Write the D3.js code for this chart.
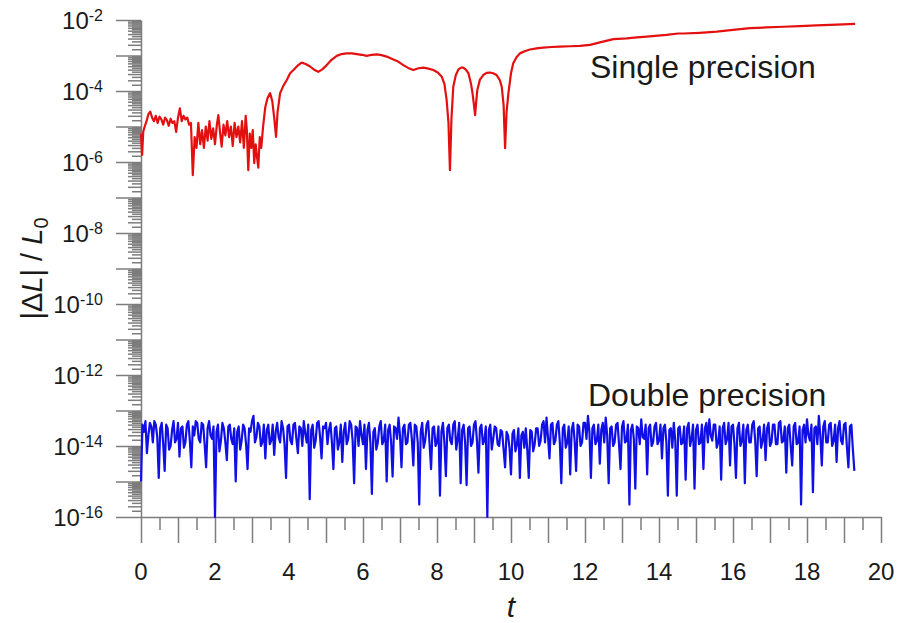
<!DOCTYPE html>
<html>
<head>
<meta charset="utf-8">
<script src="https://cdn.jsdelivr.net/npm/d3@7"></script>
<style>
    body { margin: 0; background: #fff; }
    svg { display: block; font-family: "Liberation Sans", Arial, sans-serif; }
    .axis path, .axis line { stroke: #7d7d7d; stroke-width: 1.5; }
</style>
</head>
<body>
<div id="viz"></div>
<script>
//Datos: exponentes log10 de |dL|/L0
const redT = [0.00, 0.03, 0.06, 0.10, 0.15, 0.20, 0.25, 0.30, 0.35, 0.40, 0.45, 0.50, 0.55, 0.60, 0.65, 0.70, 0.75, 0.80, 0.85, 0.90,
    0.95, 1.00, 1.05, 1.10, 1.15, 1.20, 1.25, 1.30, 1.35, 1.40, 1.45, 1.50, 1.55, 1.60, 1.65, 1.70, 1.75, 1.80, 1.85, 1.90,
    1.95, 2.00, 2.05, 2.09, 2.14, 2.18, 2.23, 2.28, 2.33, 2.38, 2.43, 2.48, 2.53, 2.58, 2.63, 2.68, 2.73, 2.78, 2.83, 2.86,
    2.90, 2.94, 2.98, 3.02, 3.06, 3.10, 3.14, 3.17, 3.21, 3.25, 3.30, 3.36, 3.42, 3.49, 3.55, 3.60, 3.65, 3.69, 3.76, 3.85,
    3.94, 4.03, 4.12, 4.25, 4.34, 4.45, 4.57, 4.68, 4.79, 4.90, 5.02, 5.15, 5.29, 5.42, 5.56, 5.70, 5.83, 5.97, 6.10, 6.24,
    6.37, 6.50, 6.64, 6.82, 6.95, 7.09, 7.22, 7.36, 7.50, 7.63, 7.77, 7.90, 8.02, 8.13, 8.20, 8.26, 8.31, 8.35, 8.39, 8.44,
    8.51, 8.58, 8.65, 8.71, 8.78, 8.85, 8.92, 8.96, 9.00, 9.03, 9.06, 9.09, 9.16, 9.25, 9.34, 9.43, 9.52, 9.61, 9.70, 9.75,
    9.80, 9.84, 9.88, 9.93, 10.00, 10.06, 10.15, 10.24, 10.37, 10.51, 10.69, 10.87, 11.10, 11.32, 11.60, 11.86, 12.14, 12.40, 12.60, 12.77,
    13.13, 13.40, 13.67, 14.20, 14.52, 14.66, 15.10, 15.56, 16.00, 16.46, 16.90, 17.36, 17.80, 18.26, 18.80, 19.30];

const redLog = [-5.2, -5.8, -5.15, -5.0, -4.85, -4.65, -4.58, -4.75, -4.85, -4.7, -4.9, -4.72, -4.8, -4.95, -4.75, -4.82, -4.98, -4.78, -4.9, -4.85,
    -5.15, -4.75, -4.49, -4.85, -4.7, -4.8, -4.75, -4.95, -4.9, -6.37, -5.3, -5.6, -4.9, -5.5, -5.1, -5.6, -5.0, -5.4, -4.85, -5.35,
    -5.05, -5.5, -4.95, -4.68, -5.2, -5.57, -4.95, -5.25, -4.85, -5.3, -5.0, -5.55, -4.9, -5.3, -5.0, -5.45, -4.85, -5.6, -4.7, -5.1,
    -6.23, -5.2, -5.6, -5.1, -6.03, -5.5, -5.9, -6.16, -5.3, -5.6, -5.0, -4.45, -4.2, -4.06, -4.3, -4.75, -5.29, -4.6, -4.06, -3.85,
    -3.69, -3.5, -3.41, -3.27, -3.2, -3.24, -3.31, -3.4, -3.46, -3.39, -3.27, -3.12, -3.01, -2.96, -2.94, -2.94, -2.96, -2.98, -3.01, -2.98,
    -2.97, -2.99, -3.03, -3.11, -3.17, -3.27, -3.35, -3.41, -3.36, -3.34, -3.37, -3.41, -3.48, -3.6, -3.8, -4.25, -4.9, -6.23, -4.8, -3.88,
    -3.55, -3.39, -3.34, -3.34, -3.4, -3.5, -3.8, -4.06, -4.4, -4.68, -4.3, -3.97, -3.68, -3.55, -3.49, -3.48, -3.5, -3.55, -3.7, -3.88,
    -4.4, -5.61, -4.6, -4.06, -3.5, -3.22, -3.05, -2.94, -2.88, -2.83, -2.8, -2.78, -2.76, -2.75, -2.74, -2.73, -2.7, -2.63, -2.58, -2.54,
    -2.52, -2.49, -2.47, -2.42, -2.38, -2.38, -2.36, -2.33, -2.28, -2.23, -2.21, -2.19, -2.17, -2.15, -2.13, -2.11];

// Doble precision: una muestra cada 0.04
const blueStep = 0.04;
const blueLog = [
    -15.0, -13.4, -13.6, -13.3, -14.2, -13.7, -13.35, -13.45, -13.9, -13.3, -13.4, -13.75, -14.9, -13.5, -13.35, -13.95, -14.7, -13.4, -13.5, -14.1,
    -14.0, -13.55, -13.3, -13.9, -13.8, -13.35, -14.3, -13.5, -13.45, -14.05, -13.9, -13.4, -13.3, -13.85, -14.6, -13.45, -13.7, -13.3, -13.35, -13.8,
    -13.9, -13.35, -13.4, -13.95, -14.6, -13.5, -13.3, -13.7, -13.8, -13.45, -16.0, -13.6, -13.4, -14.15, -13.85, -13.35, -13.5, -13.9, -14.4, -13.45,
    -13.4, -13.8, -13.95, -13.5, -15.0, -13.6, -13.45, -14.1, -13.85, -13.4, -13.5, -13.95, -14.65, -13.5, -13.6, -13.3, -13.15, -13.9, -13.75, -13.35,
    -13.45, -14.0, -13.9, -13.4, -14.35, -13.55, -13.4, -13.95, -13.85, -13.4, -14.25, -13.6, -13.35, -13.75, -13.9, -13.3, -13.5, -13.95, -14.9, -13.45,
    -13.4, -13.85, -13.95, -13.4, -13.35, -13.8, -14.2, -13.45, -13.5, -14.0, -13.3, -13.65, -13.9, -13.4, -15.5, -13.55, -13.4, -14.05, -13.85, -13.35,
    -13.3, -13.75, -14.35, -13.45, -13.5, -13.35, -13.95, -13.55, -13.35, -13.9, -14.65, -13.5, -13.45, -14.1, -13.9, -13.4, -14.45, -13.6, -13.35, -13.95,
    -13.8, -13.3, -13.4, -13.85, -15.05, -13.45, -13.5, -14.0, -13.3, -13.7, -13.95, -13.4, -14.65, -13.55, -13.35, -13.9, -15.35, -13.6, -13.5, -14.1,
    -13.9, -13.45, -13.3, -13.95, -13.85, -13.4, -15.0, -13.55, -13.4, -13.9, -14.86, -13.45, -13.5, -13.8, -13.2, -13.7, -14.6, -13.5, -13.4, -13.95,
    -13.9, -13.4, -13.35, -13.8, -14.55, -13.4, -13.45, -13.9, -15.65, -13.6, -13.35, -14.05, -13.85, -13.4, -13.3, -13.95, -14.65, -13.5, -13.45, -14.0,
    -13.9, -13.45, -15.4, -13.6, -13.35, -13.9, -14.85, -13.5, -13.4, -13.85, -13.95, -13.4, -13.3, -14.1, -13.8, -13.35, -15.05, -13.55, -13.4, -13.9,
    -15.1, -13.5, -13.45, -14.0, -13.9, -13.4, -13.3, -13.85, -14.75, -13.5, -13.4, -13.95, -13.85, -13.45, -16.0, -13.55, -13.4, -14.1, -13.8, -13.45,
    -13.5, -13.95, -14.0, -13.55, -13.6, -14.1, -14.6, -13.6, -13.7, -14.05, -14.8, -13.65, -13.55, -14.15, -13.95, -13.5, -14.9, -13.7, -13.6, -14.05,
    -13.5, -14.1, -14.9, -13.55, -13.6, -14.15, -13.95, -13.5, -13.5, -14.0, -13.85, -13.4, -13.3, -13.9, -13.2, -13.75, -14.35, -13.4, -13.35, -13.95,
    -13.85, -13.4, -13.3, -13.9, -15.05, -13.5, -13.4, -14.05, -13.9, -13.45, -14.8, -13.55, -13.35, -13.85, -14.7, -13.4, -13.45, -14.0, -13.9, -13.35,
    -13.35, -13.8, -13.15, -13.6, -14.9, -13.5, -13.4, -13.95, -13.85, -13.4, -14.5, -13.55, -13.35, -13.9, -13.2, -13.7, -15.05, -13.5, -13.45, -14.0,
    -13.9, -13.4, -13.35, -13.95, -14.65, -13.45, -13.3, -13.9, -13.85, -13.4, -15.65, -13.55, -13.4, -13.8, -15.2, -13.45, -13.5, -13.95, -13.25, -13.75,
    -13.8, -13.4, -14.8, -13.5, -13.4, -14.0, -13.9, -13.45, -13.35, -13.95, -13.85, -13.4, -14.35, -13.5, -13.4, -13.9, -15.4, -13.55, -13.5, -14.05,
    -13.35, -13.85, -15.4, -13.5, -13.45, -13.95, -13.9, -13.45, -14.95, -13.5, -13.35, -14.0, -13.8, -13.4, -15.2, -13.55, -13.4, -13.95, -13.9, -13.4,
    -14.65, -13.5, -13.35, -13.9, -13.25, -13.7, -13.85, -13.4, -13.4, -14.05, -13.9, -13.45, -14.95, -13.5, -13.35, -13.95, -13.8, -13.35, -14.55, -13.45,
    -13.4, -13.95, -14.9, -13.5, -13.35, -14.0, -13.85, -13.4, -15.05, -13.55, -13.4, -13.9, -13.9, -13.4, -13.3, -13.85, -14.85, -13.5, -13.45, -14.05,
    -13.85, -13.4, -14.4, -13.5, -13.35, -14.0, -13.9, -13.4, -13.4, -13.95, -13.95, -13.35, -13.3, -13.9, -13.85, -13.45, -14.75, -13.5, -13.4, -14.0,
    -14.55, -13.45, -13.35, -13.95, -13.9, -13.45, -15.65, -13.55, -13.4, -13.9, -13.25, -13.7, -13.85, -13.4, -15.3, -13.5, -13.45, -13.95, -13.15, -13.7,
    -14.55, -13.45, -13.3, -13.9, -13.9, -13.4, -13.35, -14.0, -13.85, -13.4, -14.45, -13.5, -13.3, -13.85, -13.95, -13.4, -13.35, -14.05, -14.6, -13.45,
    -13.4, -14.1, -14.7];

const xLabels = [0, 2, 4, 6, 8, 10, 12, 14, 16, 18, 20];
const yLabelExps = [-2, -4, -6, -8, -10, -12, -14, -16];

const W = 899, H = 623;
const margin = {top: 20, right: 18, bottom: 106, left: 141};

let svg = d3.select('#viz').append('svg')
    .attr('width', W)
    .attr('height', H);

let x = d3.scaleLinear()
    .domain([0, 20])
    .range([margin.left, W - margin.right]);

let y = d3.scaleLog()
    .domain([1e-16, 1e-2])
    .range([H - margin.bottom, margin.top]);

let yBottom = H - margin.bottom;

// Ticks eje X
let xMajor = d3.range(0, 21, 1);
let xMinor = d3.range(0.5, 20, 1);

svg.append('g')
    .attr('class', 'axis')
    .attr('transform', 'translate(0,' + yBottom + ')')
    .call(d3.axisBottom(x).tickValues(xMinor).tickSize(13).tickFormat(''))
    .select('.domain').remove();

svg.append('g')
    .attr('class', 'axis')
    .attr('transform', 'translate(0,' + yBottom + ')')
    .call(d3.axisBottom(x).tickValues(xMajor).tickSize(26).tickSizeOuter(0).tickFormat(''));

// Ticks eje Y
let yMajor = d3.range(-16, -1, 1).map(function(e) { return Math.pow(10, e); });
let yMinorLong = [], yMinorShort = [];
d3.range(-16, -2, 1).forEach(function(e) {
    for (let m = 1.5; m < 10; m += 0.5) {
        let v = m * Math.pow(10, e);
        if (m % 1 === 0) { yMinorLong.push(v); } else { yMinorShort.push(v); }
    }
});

svg.append('g')
    .attr('class', 'axis')
    .attr('transform', 'translate(' + margin.left + ',0)')
    .call(d3.axisLeft(y).tickValues(yMinorShort).tickSize(9).tickFormat(''))
    .select('.domain').remove();

svg.append('g')
    .attr('class', 'axis')
    .attr('transform', 'translate(' + margin.left + ',0)')
    .call(d3.axisLeft(y).tickValues(yMinorLong).tickSize(13).tickFormat(''))
    .select('.domain').remove();

svg.append('g')
    .attr('class', 'axis')
    .attr('transform', 'translate(' + margin.left + ',0)')
    .call(d3.axisLeft(y).tickValues(yMajor).tickSize(25).tickSizeOuter(0).tickFormat(''));

// Etiquetas
svg.append('g').selectAll('text')
    .data(xLabels)
    .enter()
    .append('text')
    .attr('x', function(d) { return x(d); })
    .attr('y', 580)
    .attr('text-anchor', 'middle')
    .attr('font-size', 24)
    .attr('fill', '#1a1a1a')
    .text(function(d) { return d; });

let yl = svg.append('g').selectAll('text')
    .data(yLabelExps)
    .enter()
    .append('text')
    .attr('x', 103)
    .attr('y', function(d) { return y(Math.pow(10, d)) + 9; })
    .attr('text-anchor', 'end')
    .attr('fill', '#1a1a1a');
yl.append('tspan').attr('font-size', 24).text('10');
yl.append('tspan').attr('font-size', 16).attr('dy', -8).text(function(d) { return '-' + Math.abs(d); });

svg.append('text')
    .attr('x', x(10))
    .attr('y', 617)
    .attr('text-anchor', 'middle')
    .attr('font-size', 30)
    .attr('font-style', 'italic')
    .attr('fill', '#1a1a1a')
    .text('t');

let ylab = svg.append('text')
    .attr('transform', 'translate(42,' + ((margin.top + yBottom) / 2) + ') rotate(-90)')
    .attr('text-anchor', 'middle')
    .attr('font-size', 29)
    .attr('fill', '#1a1a1a');
ylab.append('tspan').text('|Δ');
ylab.append('tspan').attr('font-style', 'italic').text('L');
ylab.append('tspan').text('| / ');
ylab.append('tspan').attr('font-style', 'italic').text('L');
ylab.append('tspan').attr('font-size', 20).attr('dy', 6).text('0');

// Curvas
let line = d3.line()
    .x(function(d) { return x(d.t); })
    .y(function(d) { return y(Math.pow(10, d.v)); });

let redData = redT.map(function(t, i) { return {t: t, v: redLog[i]}; });
let blueData = blueLog.map(function(v, i) { return {t: i * blueStep, v: v}; });

svg.append('path')
    .datum(blueData)
    .attr('d', line)
    .attr('fill', 'none')
    .attr('stroke', '#1010e6')
    .attr('stroke-width', 2.2)
    .attr('stroke-linejoin', 'round');

svg.append('path')
    .datum(redData)
    .attr('d', line)
    .attr('fill', 'none')
    .attr('stroke', '#e41010')
    .attr('stroke-width', 2.2)
    .attr('stroke-linejoin', 'round');

svg.append('text')
    .attr('x', 590)
    .attr('y', 78)
    .attr('font-size', 32)
    .attr('fill', '#1a1a1a')
    .text('Single precision');

svg.append('text')
    .attr('x', 588)
    .attr('y', 406)
    .attr('font-size', 32)
    .attr('fill', '#1a1a1a')
    .text('Double precision');
</script>
</body>
</html>
